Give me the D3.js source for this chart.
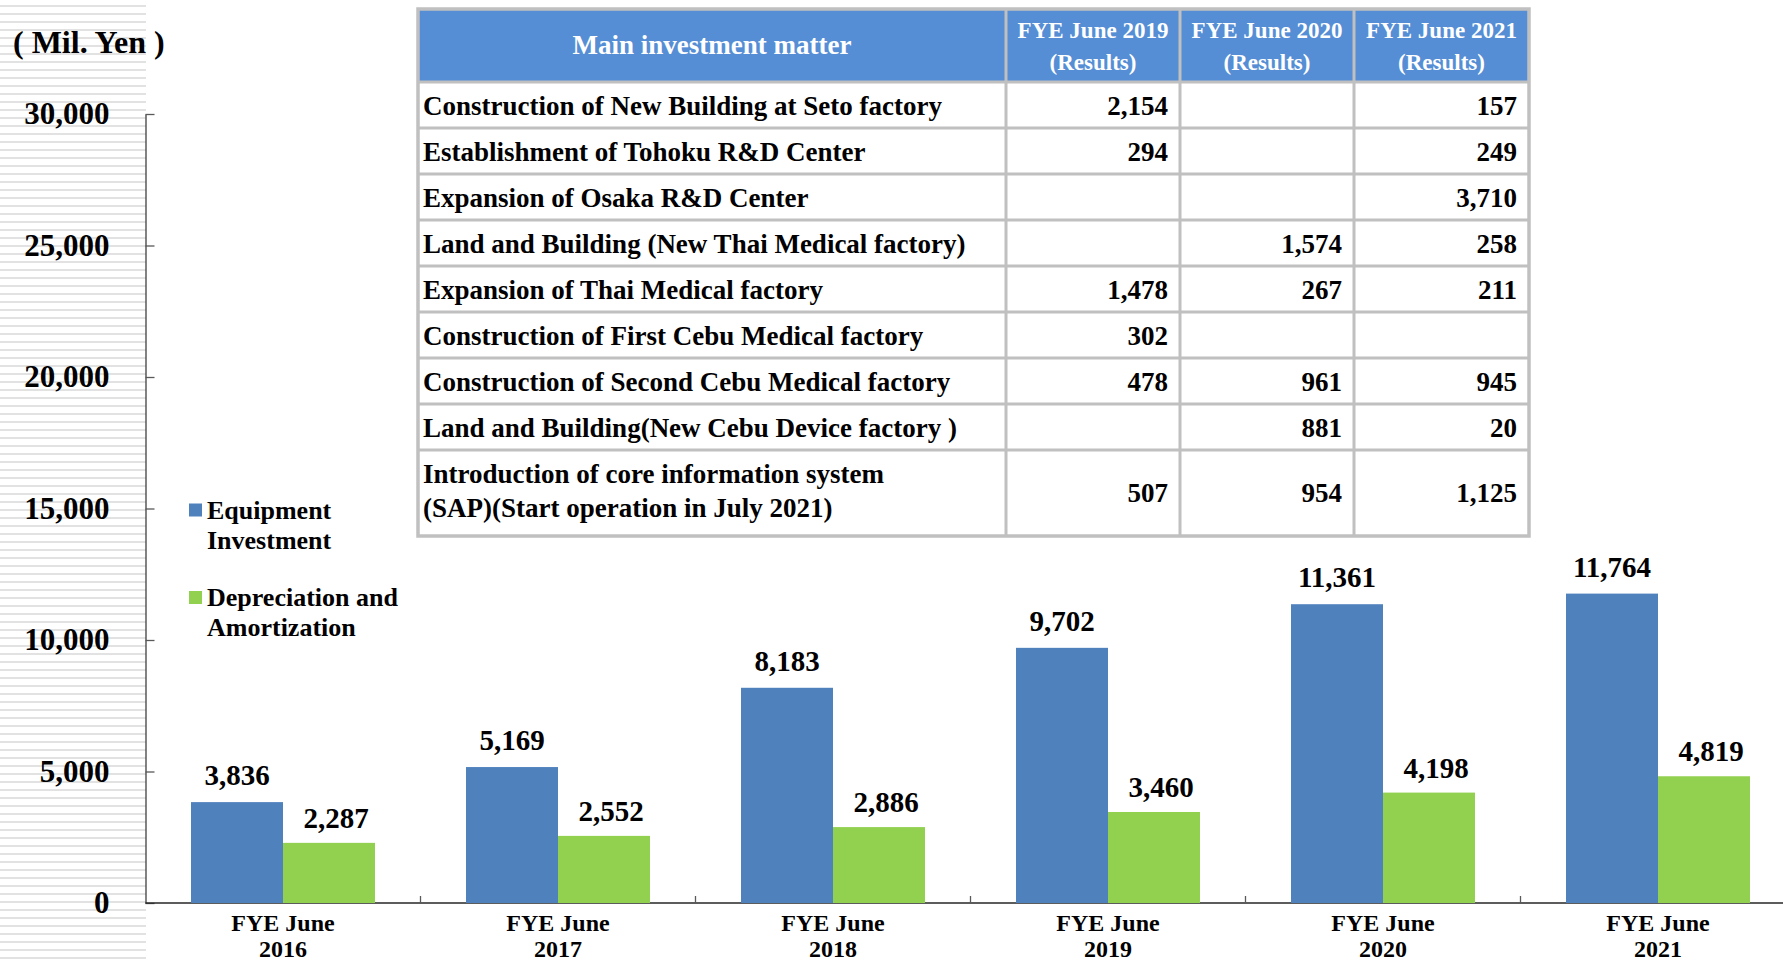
<!DOCTYPE html>
<html>
<head>
<meta charset="utf-8">
<script src="https://cdn.jsdelivr.net/npm/d3@7"></script>
<style>
  body { margin: 0; background: #fff; }
  svg { display: block; font-family: "Liberation Serif", "Times New Roman", serif; font-weight: bold; }
</style>
</head>
<body>
<div id="chart"></div>
<script>
// chart data
const years = ['2016', '2017', '2018', '2019', '2020', '2021'];
const series = ['Equipment Investment', 'Depreciation and Amortization'];
const equipment = [3836, 5169, 8183, 9702, 11361, 11764];
const depreciation = [2287, 2552, 2886, 3460, 4198, 4819];
const yTicks = [0, 5000, 10000, 15000, 20000, 25000, 30000];

// table data
const tableHeaders = ['FYE June 2019', 'FYE June 2020', 'FYE June 2021'];
const matters = [
  'Construction of New Building at Seto factory',
  'Establishment of Tohoku R&D Center',
  'Expansion of Osaka R&D Center',
  'Land and Building (New Thai Medical factory)',
  'Expansion of Thai Medical factory',
  'Construction of First Cebu Medical factory',
  'Construction of Second Cebu Medical factory',
  'Land and Building(New Cebu Device factory )',
  'Introduction of core information system\n(SAP)(Start operation in July 2021)'
];
const results2019 = [2154, 294, null, null, 1478, 302, 478, null, 507];
const results2020 = [null, null, null, 1574, 267, null, 961, 881, 954];
const results2021 = [157, 249, 3710, 258, 211, null, 945, 20, 1125];

const colors = { 'Equipment Investment': '#4f81bd', 'Depreciation and Amortization': '#92d050' };
const fmt = d3.format(',');

const width = 1783, height = 961;
const svg = d3.select('#chart').append('svg')
  .attr('width', width)
  .attr('height', height);

// striped panel behind the value axis
svg.append('g')
  .selectAll('line')
  .data(d3.range(6, height, 8))
  .join('line')
    .attr('x1', 0).attr('x2', 146)
    .attr('y1', d => d).attr('y2', d => d)
    .attr('stroke', '#d9d9d9')
    .attr('stroke-width', 1.6);

svg.append('text')
  .attr('x', 13).attr('y', 53)
  .attr('font-size', 32)
  .text('( Mil. Yen )');

// scales
const axisX = 145.5, baseY = 903;
const x0 = d3.scaleBand().domain(years).range([axisX, axisX + 6 * 275]);
const x1 = d3.scaleBand().domain(series).range([45.5, x0.bandwidth() - 45.5]);
const y = d3.scaleLinear().domain([0, 30000]).range([baseY, 114]);

// y axis
const yAxis = svg.append('g')
  .attr('transform', `translate(${axisX},0)`)
  .call(d3.axisLeft(y).tickValues(yTicks).tickSize(-9).tickSizeOuter(0)
    .tickPadding(36).tickFormat(fmt));
yAxis.select('.domain').attr('stroke', '#404040').attr('stroke-width', 1.3);
yAxis.selectAll('.tick line').attr('stroke', '#595959').attr('stroke-width', 1.3);
yAxis.selectAll('.tick text')
  .attr('font-size', 31)
  .attr('font-family', '"Liberation Serif", serif')
  .attr('font-weight', 'bold')
  .attr('fill', '#000');

// x axis
svg.append('line')
  .attr('x1', axisX).attr('x2', width)
  .attr('y1', baseY).attr('y2', baseY)
  .attr('stroke', '#262626').attr('stroke-width', 1.5);
svg.append('g')
  .selectAll('line')
  .data(years.slice(1))
  .join('line')
    .attr('x1', d => x0(d)).attr('x2', d => x0(d))
    .attr('y1', baseY).attr('y2', baseY - 7)
    .attr('stroke', '#595959').attr('stroke-width', 1.3);
const xl = svg.append('g')
  .selectAll('text')
  .data(years)
  .join('text')
    .attr('text-anchor', 'middle')
    .attr('font-size', 24);
xl.append('tspan').attr('x', d => x0(d) + x0.bandwidth() / 2).attr('y', 931).text('FYE June');
xl.append('tspan').attr('x', d => x0(d) + x0.bandwidth() / 2).attr('y', 957).text(d => d);

// bars
const rows = years.map((yr, i) => ({ year: yr, values: [
  { key: series[0], value: equipment[i] },
  { key: series[1], value: depreciation[i] }
]}));

const groups = svg.append('g')
  .selectAll('g')
  .data(rows)
  .join('g')
    .attr('transform', d => `translate(${x0(d.year)},0)`);

groups.selectAll('rect')
  .data(d => d.values)
  .join('rect')
    .attr('x', d => x1(d.key))
    .attr('y', d => y(d.value))
    .attr('width', x1.bandwidth())
    .attr('height', d => y(0) - y(d.value))
    .attr('fill', d => colors[d.key]);

groups.selectAll('text')
  .data(d => d.values)
  .join('text')
    .attr('x', d => x1(d.key) + x1.bandwidth() / 2 + (d.key === series[1] ? 7 : 0))
    .attr('y', d => y(d.value) - (d.key === series[0] ? 17 : 15))
    .attr('text-anchor', 'middle')
    .attr('font-size', 29)
    .text(d => fmt(d.value));

// legend
const legend = svg.append('g')
  .selectAll('g')
  .data(series)
  .join('g')
    .attr('transform', (d, i) => `translate(189,${508.5 + i * 87.5})`);
legend.append('rect')
  .attr('y', -5)
  .attr('width', 13).attr('height', 13)
  .attr('fill', d => colors[d]);
const lt = legend.append('text').attr('font-size', 26);
lt.append('tspan').attr('x', 18).attr('y', 10)
  .text(d => d === series[0] ? 'Equipment' : 'Depreciation and');
lt.append('tspan').attr('x', 18).attr('y', 40)
  .text(d => d === series[0] ? 'Investment' : 'Amortization');

// investment table
const tLeft = 418, tTop = 9, headH = 73, rowH = 46, lastH = 86;
const colEdges = [tLeft, 1006, 1180, 1354, 1529];
const rowTops = matters.map((m, i) => tTop + headH + i * rowH);
const tBottom = rowTops[rowTops.length - 1] + lastH;

const table = svg.append('g');
table.append('rect')
  .attr('x', tLeft).attr('y', tTop)
  .attr('width', colEdges[4] - tLeft).attr('height', headH)
  .attr('fill', '#558ed5');

table.append('text')
  .attr('x', (colEdges[0] + colEdges[1]) / 2).attr('y', 54)
  .attr('text-anchor', 'middle')
  .attr('font-size', 27)
  .attr('fill', '#fff')
  .text('Main investment matter');

const hd = table.selectAll('.hd')
  .data(tableHeaders)
  .join('text')
    .attr('class', 'hd')
    .attr('text-anchor', 'middle')
    .attr('font-size', 23)
    .attr('fill', '#fff');
hd.append('tspan').attr('x', (d, i) => (colEdges[i + 1] + colEdges[i + 2]) / 2).attr('y', 38).text(d => d);
hd.append('tspan').attr('x', (d, i) => (colEdges[i + 1] + colEdges[i + 2]) / 2).attr('y', 70).text('(Results)');

const body = table.selectAll('.row')
  .data(matters)
  .join('g')
    .attr('class', 'row');

body.append('text')
  .attr('font-size', 27)
  .selectAll('tspan')
  .data((d, i) => d.split('\n').map((line, j, arr) => ({ line, j, n: arr.length, i })))
  .join('tspan')
    .attr('x', 423)
    .attr('y', d => d.n > 1 ? rowTops[d.i] + 33 + d.j * 34 : rowTops[d.i] + 33)
    .text(d => d.line);

[results2019, results2020, results2021].forEach((col, c) => {
  table.append('g')
    .selectAll('text')
    .data(col)
    .join('text')
      .attr('x', colEdges[c + 2] - 12)
      .attr('y', (d, i) => i === matters.length - 1 ? rowTops[i] + 52 : rowTops[i] + 33)
      .attr('text-anchor', 'end')
      .attr('font-size', 27)
      .text(d => d == null ? '' : fmt(d));
});

// grid lines of the table
const gridY = [tTop + headH, ...rowTops.slice(1)];
table.append('g')
  .selectAll('line')
  .data(gridY)
  .join('line')
    .attr('x1', tLeft).attr('x2', colEdges[4])
    .attr('y1', d => d).attr('y2', d => d)
    .attr('stroke', '#c0c0c0').attr('stroke-width', 3);
table.append('g')
  .selectAll('line')
  .data(colEdges.slice(1, 4))
  .join('line')
    .attr('x1', d => d).attr('x2', d => d)
    .attr('y1', tTop).attr('y2', tBottom)
    .attr('stroke', '#c0c0c0').attr('stroke-width', 3);
table.append('rect')
  .attr('x', tLeft).attr('y', tTop)
  .attr('width', colEdges[4] - tLeft).attr('height', tBottom - tTop)
  .attr('fill', 'none')
  .attr('stroke', '#c0c0c0').attr('stroke-width', 3.5);
</script>
</body>
</html>
